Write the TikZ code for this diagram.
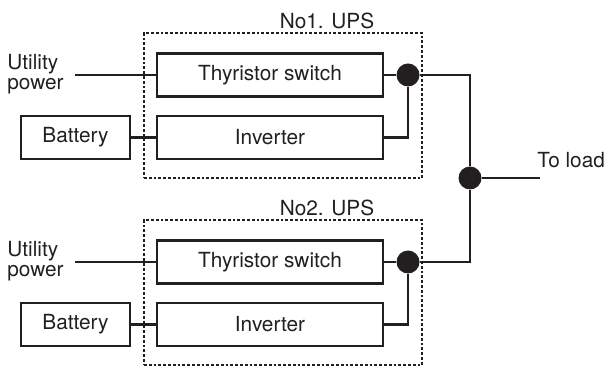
\documentclass[tikz,border=0pt]{standalone}
\usepackage{fontspec}
\setmainfont{TeX Gyre Heros}
\usetikzlibrary{positioning}
\definecolor{ink}{RGB}{35,31,32}

\begin{document}
\begin{tikzpicture}[x=0.5pt,y=-0.5pt,font=\fontsize{10.4}{12}\selectfont,
    every node/.style={text=ink},
    block/.style={draw=ink,line width=1.2pt,minimum height=21.5pt,inner sep=0pt},
    wire/.style={draw=ink,line width=1.2pt},
    junction/.style={circle,fill=ink,inner sep=0pt,minimum size=11.5pt},
    upsbox/.style={draw=ink,line width=1.4pt,dash pattern=on 1.4pt off 1pt,
                   minimum width=139pt,minimum height=72.5pt,inner sep=0pt}]
    \useasboundingbox (0,0) rectangle (604,367);

    % two identical UPS units, one above the other
    \foreach \n/\dy in {1/0,2/187} {
      \node[upsbox] (ups\n) at (283,{105.5+\dy}) {};
      \node (title\n) at (327,{21+\dy}) {No\n. UPS};
      \node[block,minimum width=113pt] (ts\n) at (270,{75+\dy}) {Thyristor switch};
      \node[block,minimum width=113pt] (inv\n) at (270,{137.5+\dy}) {Inverter};
      \node[block,minimum width=54.5pt] (bat\n) at (75.5,{137.5+\dy}) {Battery};
      \node[junction] (j\n) at (408,{75+\dy}) {};
      \node[anchor=west,align=left,inner sep=0pt,font=\fontsize{10.4}{10}\selectfont]
        (util\n) at (7,{74+\dy}) {Utility\\power};
      \coordinate (in\n) at (75,{75+\dy});

      \draw[wire] (in\n) -- (ts\n);
      \draw[wire] (bat\n) -- (inv\n);
      \draw[wire] (ts\n) -- (j\n);
      \draw[wire] (inv\n.east) -| (j\n);
    }

    % outputs joined on the common bus
    \node[junction] (jl) at (470,178) {};
    \coordinate (load) at (540,178);
    \node[anchor=west,inner sep=0pt] (loadtxt) at (537,160) {To load};
    \draw[wire] (j1) -| (jl) |- (j2);
    \draw[wire] (jl) -- (load);
\end{tikzpicture}
\end{document}
